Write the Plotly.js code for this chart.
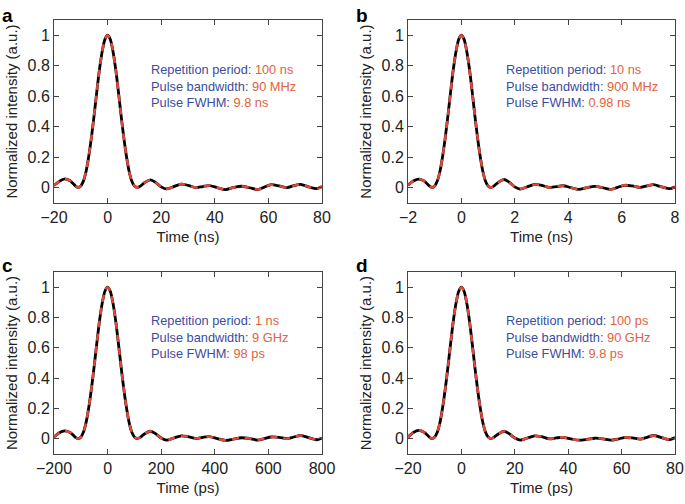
<!DOCTYPE html>
<html>
<head>
<meta charset="utf-8">
<script src="https://cdn.plot.ly/plotly-3.0.1.min.js"></script>
<style>
  html, body { margin: 0; padding: 0; background: #fff; }
  #chart { width: 685px; height: 504px; }
</style>
</head>
<body>
<div id="chart"></div>
<script>
// time samples for each panel
var timeA = [-20,-18,-16,-14,-12,-11,-10,-9,-8,-7,-6,-5,-4,-3,-2,-1,0,1,2,3,4,5,6,7,8,9,10,11,12,14,16,18,20,22,24.5,27.5,30,33,35.5,38,41,44,47,50,53,56,58.5,61,64,67,69.5,72,75,78,80];
var timeB = [-2,-1.8,-1.6,-1.4,-1.2,-1.1,-1,-0.9,-0.8,-0.7,-0.6,-0.5,-0.4,-0.3,-0.2,-0.1,0,0.1,0.2,0.3,0.4,0.5,0.6,0.7,0.8,0.9,1,1.1,1.2,1.4,1.6,1.8,2,2.2,2.45,2.75,3,3.3,3.55,3.8,4.1,4.4,4.7,5,5.3,5.6,5.85,6.1,6.4,6.7,6.95,7.2,7.5,7.8,8];
var timeC = [-200,-180,-160,-140,-120,-110,-100,-90,-80,-70,-60,-50,-40,-30,-20,-10,0,10,20,30,40,50,60,70,80,90,100,110,120,140,160,180,200,220,245,275,300,330,355,380,410,440,470,500,530,560,585,610,640,670,695,720,750,780,800];
var timeD = [-20,-18,-16,-14,-12,-11,-10,-9,-8,-7,-6,-5,-4,-3,-2,-1,0,1,2,3,4,5,6,7,8,9,10,11,12,14,16,18,20,22,24.5,27.5,30,33,35.5,38,41,44,47,50,53,56,58.5,61,64,67,69.5,72,75,78,80];

// normalized intensity, one list per panel
var intensityA = [0.015,0.042,0.058,0.046,0.012,0.002,0.012,0.045,0.11,0.21,0.335,0.48,0.635,0.78,0.895,0.973,1,0.973,0.895,0.78,0.635,0.48,0.335,0.21,0.11,0.045,0.012,0.002,0.008,0.036,0.052,0.034,0.006,-0.008,0.006,0.024,0.016,0.001,0.008,0.014,0.0,-0.012,0.002,0.01,0.0,-0.012,0.004,0.02,0.012,0.001,0.014,0.022,0.006,-0.006,0.008];
var intensityB = [0.017,0.044,0.057,0.045,0.012,0.002,0.012,0.046,0.11,0.21,0.335,0.48,0.635,0.78,0.895,0.973,1,0.973,0.895,0.78,0.635,0.48,0.335,0.21,0.11,0.045,0.012,0.002,0.009,0.038,0.054,0.035,0.006,-0.009,0.005,0.022,0.016,0.002,0.008,0.013,0.001,-0.011,0.001,0.009,0.0,-0.011,0.003,0.016,0.012,0.002,0.013,0.02,0.006,-0.006,0.006];
var intensityC = [0.012,0.04,0.052,0.042,0.01,0.001,0.011,0.045,0.11,0.21,0.335,0.48,0.635,0.78,0.895,0.973,1,0.973,0.895,0.78,0.635,0.48,0.335,0.21,0.11,0.045,0.012,0.002,0.008,0.035,0.05,0.033,0.005,-0.009,0.004,0.02,0.014,0.002,0.01,0.014,0.001,-0.01,-0.002,0.007,0.002,-0.008,0.002,0.012,0.01,0.001,0.012,0.022,0.008,-0.006,0.006];
var intensityD = [0.012,0.042,0.056,0.044,0.012,0.002,0.012,0.045,0.11,0.21,0.335,0.48,0.635,0.78,0.895,0.973,1,0.973,0.895,0.78,0.635,0.48,0.335,0.21,0.11,0.045,0.012,0.002,0.008,0.034,0.05,0.033,0.005,-0.008,0.004,0.02,0.014,0.0,0.006,0.01,0.0,-0.009,-0.004,0.004,0.0,-0.009,-0.002,0.008,0.006,-0.002,0.01,0.022,0.008,-0.005,0.008];

var panelLetters = ['a', 'b', 'c', 'd'];
var xTitles = ['Time (ns)', 'Time (ns)', 'Time (ps)', 'Time (ps)'];
var xRanges = [[-20, 80], [-2, 8], [-200, 800], [-20, 80]];
var xTicks = [[-20,0,20,40,60,80], [-2,0,2,4,6,8], [-200,0,200,400,600,800], [-20,0,20,40,60,80]];
var yTicks = [0, 0.2, 0.4, 0.6, 0.8, 1];
var periodText = ['100 ns', '10 ns', '1 ns', '100 ps'];
var bandwidthText = ['90 MHz', '900 MHz', '9 GHz', '90 GHz'];
var fwhmText = ['9.8 ns', '0.98 ns', '98 ps', '9.8 ps'];

var times = [timeA, timeB, timeC, timeD];
var intensities = [intensityA, intensityB, intensityC, intensityD];

var W = 685, H = 504;
// plot boxes in pixels: [left, right, top, bottom]
var boxes = [[54, 322, 20, 203], [408, 675, 20, 203], [54, 322, 272, 454], [408, 675, 272, 454]];
var FONT = 'Liberation Sans, Arial, Helvetica, sans-serif';
var BLUE = '#3c4c9e', ORANGE = '#e2623c';

var data = [];
var layout = {
  width: W, height: H,
  margin: {l: 0, r: 0, t: 0, b: 0},
  paper_bgcolor: '#fff', plot_bgcolor: '#fff',
  showlegend: false,
  font: {family: FONT, color: '#222'},
  annotations: []
};

for (var i = 0; i < 4; i++) {
  var sfx = i === 0 ? '' : String(i + 1);
  // solid black curve
  data.push({
    x: times[i], y: intensities[i], xaxis: 'x' + sfx, yaxis: 'y' + sfx,
    type: 'scatter', mode: 'lines',
    line: {color: '#000', width: 2.8, shape: 'spline', smoothing: 0.8}
  });
  // red dashed curve on top
  data.push({
    x: times[i], y: intensities[i], xaxis: 'x' + sfx, yaxis: 'y' + sfx,
    type: 'scatter', mode: 'lines',
    line: {color: '#e0483c', width: 2.5, dash: '7px,6px', shape: 'spline', smoothing: 0.8}
  });

  var b = boxes[i];
  layout['xaxis' + sfx] = {
    domain: [b[0] / W, b[1] / W], anchor: 'y' + sfx,
    range: xRanges[i], tickvals: xTicks[i],
    ticks: 'inside', ticklen: 5, tickcolor: '#444', mirror: 'ticks',
    showline: true, linecolor: '#444', linewidth: 1,
    showgrid: false, zeroline: false,
    tickfont: {size: 16, color: '#222'},
    title: {text: xTitles[i], font: {size: 15, color: '#222'}, standoff: 6}
  };
  layout['yaxis' + sfx] = {
    domain: [1 - b[3] / H, 1 - b[2] / H], anchor: 'x' + sfx,
    range: [-0.1, 1.1], tickvals: yTicks,
    ticks: 'inside', ticklen: 5, tickcolor: '#444', mirror: 'ticks',
    showline: true, linecolor: '#444', linewidth: 1,
    showgrid: false, zeroline: false,
    tickfont: {size: 16, color: '#222'},
    title: {text: 'Normalized intensity (a.u.)', font: {size: 15, color: '#222'}, standoff: 6}
  };

  // panel letter
  layout.annotations.push({
    xref: 'paper', yref: 'paper', x: (i % 2 === 0 ? 0 : 354) / W, y: 1 - (i < 2 ? 3 : 253) / H,
    xanchor: 'left', yanchor: 'top', showarrow: false,
    text: '<b>' + panelLetters[i] + '</b>', font: {size: 19, color: '#000'}
  });

  // info text block
  var tx = i % 2 === 0 ? 149 : 504;
  var ty = i < 2 ? 60 : 311;
  layout.annotations.push({
    xref: 'paper', yref: 'paper', x: tx / W, y: 1 - ty / H,
    xanchor: 'left', yanchor: 'top', align: 'left', showarrow: false,
    font: {size: 12.8, color: BLUE},
    text: 'Repetition period: <span style="color:' + ORANGE + '">' + periodText[i] + '</span><br>' +
          'Pulse bandwidth: <span style="color:' + ORANGE + '">' + bandwidthText[i] + '</span><br>' +
          'Pulse FWHM: <span style="color:' + ORANGE + '">' + fwhmText[i] + '</span>'
  });
}

Plotly.newPlot('chart', data, layout, {displayModeBar: false, staticPlot: true});
</script>
</body>
</html>
